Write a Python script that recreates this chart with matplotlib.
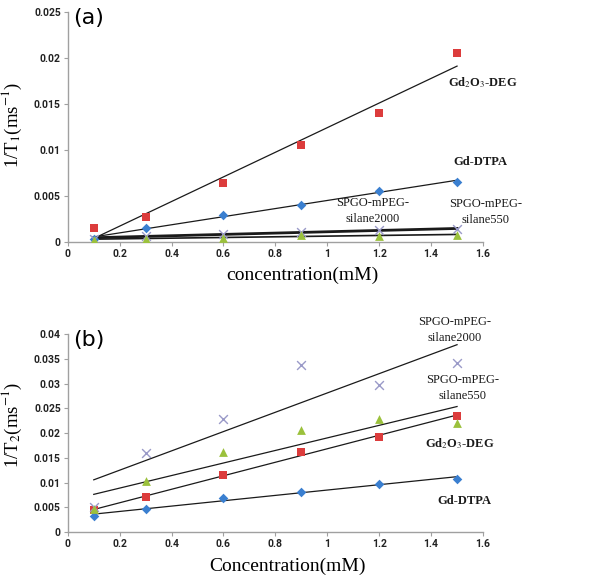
import numpy as np
import matplotlib
matplotlib.use("Agg")
import matplotlib.pyplot as plt

plt.rcParams["mathtext.fontset"] = "stix"

conc = [0.1, 0.3, 0.6, 0.9, 1.2, 1.5]

# Panel (a): 1/T1 (ms^-1)
t1_gd2o3_deg = [0.00155, 0.00280, 0.00643, 0.01062, 0.01405, 0.02056]
t1_gd_dtpa = [0.00040, 0.00152, 0.00296, 0.00408, 0.00556, 0.00658]
t1_silane2000 = [0.00040, 0.00070, 0.00090, 0.00110, 0.00130, 0.00145]
t1_silane550 = [0.00030, 0.00040, 0.00050, 0.00080, 0.00070, 0.00080]

# Panel (b): 1/T2 (ms^-1)
t2_gd2o3_deg = [0.0044, 0.0072, 0.0115, 0.0161, 0.0193, 0.0235]
t2_gd_dtpa = [0.0032, 0.0047, 0.0069, 0.0082, 0.0097, 0.0108]
t2_silane2000 = [0.0050, 0.0159, 0.0228, 0.0337, 0.0298, 0.0342]
t2_silane550 = [0.0046, 0.0104, 0.0161, 0.0206, 0.0228, 0.0220]

xticks = [0, 0.2, 0.4, 0.6, 0.8, 1, 1.2, 1.4, 1.6]
xtick_labels = ["0", "0.2", "0.4", "0.6", "0.8", "1", "1.2", "1.4", "1.6"]
yticks_a = [0, 0.005, 0.01, 0.015, 0.02, 0.025]
yticks_a_labels = ["0", "0.005", "0.01", "0.015", "0.02", "0.025"]
yticks_b = [0, 0.005, 0.01, 0.015, 0.02, 0.025, 0.03, 0.035, 0.04]
yticks_b_labels = ["0", "0.005", "0.01", "0.015", "0.02", "0.025", "0.03", "0.035", "0.04"]

RED = "#dc3c3c"
BLUE = "#3a7fd0"
GREEN = "#9bc13c"
LAV = "#9a9ac8"
SPINE = "#a0a0a0"

fig = plt.figure(figsize=(6.0, 5.81), dpi=100)
ax1 = fig.add_axes([0.113, 0.583, 0.692, 0.396])
ax2 = fig.add_axes([0.113, 0.084, 0.692, 0.341])

serif = ["Liberation Serif", "DejaVu Serif"]


def trend(ax, y, lw=0.9):
    k, b = np.polyfit(conc, y, 1)
    xs = np.array([conc[0], conc[-1]])
    ax.plot(xs, k * xs + b, color="#1a1a1a", lw=lw, zorder=3)


def style(ax, yticks, ylabels, ymax):
    ax.set_xlim(0, 1.6)
    ax.set_ylim(0, ymax)
    ax.set_xticks(xticks)
    ax.set_xticklabels(xtick_labels)
    ax.set_yticks(yticks)
    ax.set_yticklabels(ylabels)
    for s in ["top", "right"]:
        ax.spines[s].set_visible(False)
    for s in ["left", "bottom"]:
        ax.spines[s].set_color(SPINE)
        ax.spines[s].set_linewidth(1.0)
    ax.tick_params(direction="out", length=3, width=0.8, color=SPINE, pad=2)
    for lab in ax.get_xticklabels() + ax.get_yticklabels():
        lab.set_family(["Roboto", "DejaVu Sans"])
        lab.set_fontsize(7.5)
        lab.set_fontweight("bold")
        lab.set_color("#222222")


DATA = {
    ax1: (t1_gd2o3_deg, t1_gd_dtpa, t1_silane2000, t1_silane550),
    ax2: (t2_gd2o3_deg, t2_gd_dtpa, t2_silane2000, t2_silane550),
}


def markers(ax):
    ax.scatter(conc, DATA[ax][0], marker="s", s=38, color=RED, zorder=4, linewidths=0)
    ax.scatter(conc, DATA[ax][1], marker="D", s=24, color=BLUE, zorder=4, linewidths=0)
    ax.scatter(conc, DATA[ax][2], marker="x", s=40, color=LAV, zorder=4, linewidths=1.0)
    ax.scatter(conc, DATA[ax][3], marker="^", s=40, color=GREEN, zorder=4, linewidths=0)


ann = dict(fontsize=9, family=serif, ha="center", va="center", color="#1a1a1a")

# Panel (a)
markers(ax1)
trend(ax1, t1_gd2o3_deg)
trend(ax1, t1_gd_dtpa)
trend(ax1, t1_silane2000, lw=2.0)
trend(ax1, t1_silane550, lw=1.2)
style(ax1, yticks_a, yticks_a_labels, 0.025)
ax1.set_ylabel("1/T$_1$(ms$^{-1}$)", fontsize=13.5, family=serif)
ax1.yaxis.set_label_coords(-0.105, 0.51)
ax1.set_xlabel("concentration(mM)", fontsize=14, family=serif)
ax1.xaxis.set_label_coords(0.564, -0.105)
ax1.text(0.013, 1.02, "(a)", transform=ax1.transAxes, fontsize=16, va="top", ha="left")

ax1.text(1.60, 0.0174, "Gd$_2$O$_3$-DEG", fontweight="bold", **ann)
ax1.text(1.59, 0.0087, "Gd-DTPA", fontweight="bold", **ann)
ax1.text(1.176, 0.0034, "SPGO-mPEG-\nsilane2000", linespacing=1.5, **ann)
ax1.text(1.61, 0.0033, "SPGO-mPEG-\nsilane550", linespacing=1.5, **ann)

# Panel (b)
markers(ax2)
trend(ax2, t2_gd2o3_deg)
trend(ax2, t2_gd_dtpa)
trend(ax2, t2_silane2000)
trend(ax2, t2_silane550)
style(ax2, yticks_b, yticks_b_labels, 0.04)
ax2.set_ylabel("1/T$_2$(ms$^{-1}$)", fontsize=13.5, family=serif)
ax2.yaxis.set_label_coords(-0.105, 0.54)
ax2.set_xlabel("Concentration(mM)", fontsize=14, family=serif)
ax2.xaxis.set_label_coords(0.53, -0.128)
ax2.text(0.013, 1.02, "(b)", transform=ax2.transAxes, fontsize=16, va="top", ha="left")

ax2.text(1.49, 0.0408, "SPGO-mPEG-\nsilane2000", linespacing=1.4, **ann)
ax2.text(1.52, 0.0291, "SPGO-mPEG-\nsilane550", linespacing=1.4, **ann)
ax2.text(1.51, 0.0178, "Gd$_2$O$_3$-DEG", fontweight="bold", **ann)
ax2.text(1.53, 0.0063, "Gd-DTPA", fontweight="bold", **ann)

for ax in (ax1, ax2):
    for t in ax.texts:
        t.set_clip_on(False)

fig.savefig("out.png", dpi=100)
